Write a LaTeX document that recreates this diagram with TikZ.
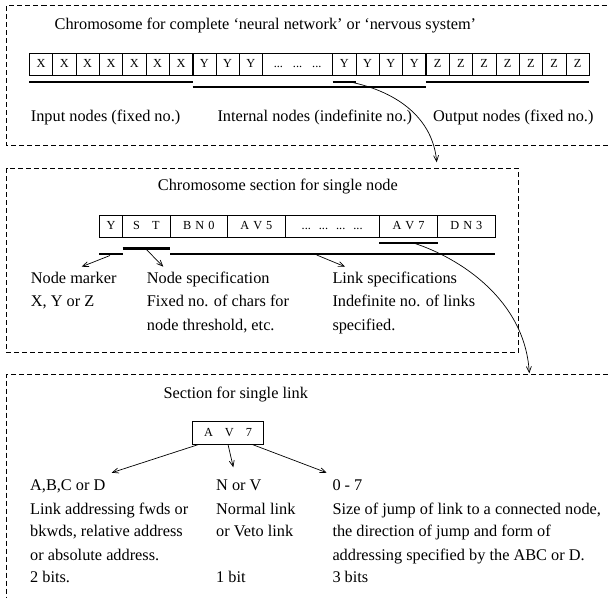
\documentclass[tikz,border=0pt]{standalone}
\usepackage{fontspec}
\setmainfont{Liberation Serif}
\usetikzlibrary{arrows.meta}
\begin{document}
\begin{tikzpicture}[x=1pt,y=-1pt,
  frame/.style={draw=black, line width=0.8pt, dash pattern=on 5pt off 3pt},
  cell/.style={draw=black, line width=0.7pt, inner sep=0pt, outer sep=0pt, minimum height=21.7pt, text height=9pt, text depth=2.5pt, font=\fontsize{12.3}{14}\selectfont},
  cellb/.style={cell, minimum height=22.5pt},
  ul/.style={line width=2.2pt},
  divider/.style={line width=1.8pt},
  arr/.style={line width=0.7pt, -{Straight Barb[length=6pt,width=5pt]}},
  txt/.style={anchor=base west, inner sep=0pt, font=\fontsize{16.3}{20}\selectfont},
]
\useasboundingbox (0,0) rectangle (608,598);

% ---------- frames ----------
\draw[frame] (608,145) -- (6.5,145) -- (6.5,5.5) -- (608,5.5);
\draw[frame] (6.5,168.3) rectangle (518.3,352.7);
\draw[frame] (608,374) -- (6.5,374) -- (6.5,598);

% ---------- section 1 ----------
\node[txt] (t1) at (54.5,29.3) {Chromosome for complete ‘neural network’ or ‘nervous system’};

\foreach \i in {0,...,6}
  \node[cell, minimum width=23.33pt] (x\i) at ({29.3+23.33*\i+11.665},64.15) {X};
\foreach \i in {7,8,9}
  \node[cell, minimum width=23.33pt] (y\i) at ({29.3+23.33*\i+11.665},64.15) {Y};
\node[cell, minimum width=69.99pt] (dots1) at ({29.3+23.33*10+35},64.15) {...\hspace{10pt}...\hspace{10pt}...};
\foreach \i in {13,...,16}
  \node[cell, minimum width=23.33pt] (y\i) at ({29.3+23.33*\i+11.665},64.15) {Y};
\foreach \i in {17,...,23}
  \node[cell, minimum width=23.33pt] (z\i) at ({29.3+23.33*\i+11.665},64.15) {Z};

\draw[divider] (x6.north east) -- (x6.south east);
\draw[divider] (y16.north east) -- (y16.south east);

\draw[ul] ([yshift=-6.7pt]x0.south west) -- ([yshift=-6.7pt]x6.south east);
\draw[ul] ([yshift=-12pt]x6.south east) -- ([yshift=-12pt]y16.south east);
\draw[ul] ([yshift=-6.7pt]y13.south west) -- ([yshift=-6.7pt]y13.south east);
\draw[ul] ([yshift=-6.7pt]z17.south west) -- ([yshift=-6.7pt]z23.south east);

\node[txt] (in1) at (30.7,121.7) {Input nodes (fixed no.)};
\node[txt] (in2) at (217.3,121.7) {Internal nodes (indefinite no.)};
\node[txt] (in3) at (433,121.7) {Output nodes (fixed no.)};

\coordinate (c1s) at ([xshift=-7pt,yshift=-6.7pt]y13.south east);
\coordinate (c1e) at (436.7,162.3);
\draw[arr] (c1s) .. controls (400,92) and (433,120) .. (c1e);

% ---------- section 2 ----------
\node[txt] (t2) at (157.7,190.7) {Chromosome section for single node};

\node[cellb, minimum width=23.4pt] (sy) at (111,226.25) {Y};
\node[cellb, minimum width=47.3pt] (st) at (146.35,226.25) {S\hspace{12pt}T};
\node[cellb, minimum width=57.7pt] (bn) at (198.85,226.25) {B\hspace{4pt}N\hspace{4pt}0};
\node[cellb, minimum width=57.3pt] (av5) at (256.35,226.25) {A\hspace{4pt}V\hspace{4pt}5};
\node[cellb, minimum width=94.3pt] (dots2) at (332.15,226.25) {...\hspace{8pt}...\hspace{8pt}...\hspace{8pt}...};
\node[cellb, minimum width=58.4pt] (av7) at (408.5,226.25) {A\hspace{4pt}V\hspace{4pt}7};
\node[cellb, minimum width=57.3pt] (dn3) at (466.35,226.25) {D\hspace{4pt}N\hspace{4pt}3};

\draw[ul] ([yshift=-5.2pt]av7.south west) -- ([yshift=-5.2pt]av7.south east);
\draw[ul] ([yshift=-11pt]st.south west) -- ([yshift=-11pt]st.south east);
\draw[ul] ([yshift=-16.8pt]sy.south west) -- ([yshift=-16.8pt]sy.south east);
\draw[ul] ([yshift=-16.8pt]bn.south west) -- ([yshift=-16.8pt]dn3.south east);

\coordinate (a1e) at (81.7,266.7);
\coordinate (a2e) at (163.3,266.7);
\coordinate (a3e) at (345,266.7);
\draw[arr] ([xshift=-1pt,yshift=-18pt]sy.south) -- (a1e);
\draw[arr] ([yshift=-12pt]st.south) -- (a2e);
\draw[arr] ([yshift=-17.5pt]dots2.south west) ++(31.7,0) -- (a3e);

\node[txt] (nm1) at (30.7,283.5) {Node marker};
\node[txt] (nm2) at (30.7,306.7) {X, Y or Z};
\node[txt] (ns1) at (146.7,283.5) {Node specification};
\node[txt] (ns2) at (146.7,306.7) {Fixed no. of chars for};
\node[txt] (ns3) at (146.7,330) {node threshold, etc.};
\node[txt] (ls1) at (332.3,283.5) {Link specifications};
\node[txt] (ls2) at (332.3,306.7) {Indefinite no. of links};
\node[txt] (ls3) at (332.3,330) {specified.};

\coordinate (c2s) at ([xshift=5pt,yshift=-5.5pt]av7.south);
\coordinate (c2e) at (529.3,373.3);
\draw[arr] (c2s) .. controls (460,258) and (525,300) .. (c2e);

% ---------- section 3 ----------
\node[txt] (t3) at (163.3,398.3) {Section for single link};
\node[draw, line width=0.8pt, inner sep=0pt, minimum width=70.6pt, minimum height=22.3pt,
      text height=9pt, text depth=2.5pt,
      font=\fontsize{12.3}{14}\selectfont] (lav) at (228,432.85) {A\hspace{12pt}V\hspace{12pt}7};

\coordinate (b1e) at (111.7,472.7);
\coordinate (b2e) at (233.3,467.3);
\coordinate (b3e) at (326.7,472.7);
\draw[arr] ([xshift=6.6pt]lav.south west) -- (b1e);
\draw[arr] (lav.south) -- (b2e);
\draw[arr] ([xshift=-11.6pt]lav.south east) -- (b3e);

\node[txt] (p1) at (30,490.7) {A,B,C or D};
\node[txt] (p2) at (30,514) {Link addressing fwds or};
\node[txt] (p3) at (30,536.7) {bkwds, relative address};
\node[txt] (p4) at (30,560) {or absolute address.};
\node[txt] (p5) at (30,582) {2 bits.};
\node[txt] (q1) at (216,490.7) {N or V};
\node[txt] (q2) at (216,514) {Normal link};
\node[txt] (q3) at (216,536.7) {or Veto link};
\node[txt] (q5) at (216,582) {1 bit};
\node[txt] (r1) at (332.3,490.7) {0 - 7};
\node[txt] (r2) at (332.3,514) {Size of jump of link to a connected node,};
\node[txt] (r3) at (332.3,536.7) {the direction of jump and form of};
\node[txt] (r4) at (332.3,560) {addressing specified by the ABC or D.};
\node[txt] (r5) at (332.3,582) {3 bits};
\end{tikzpicture}
\end{document}
